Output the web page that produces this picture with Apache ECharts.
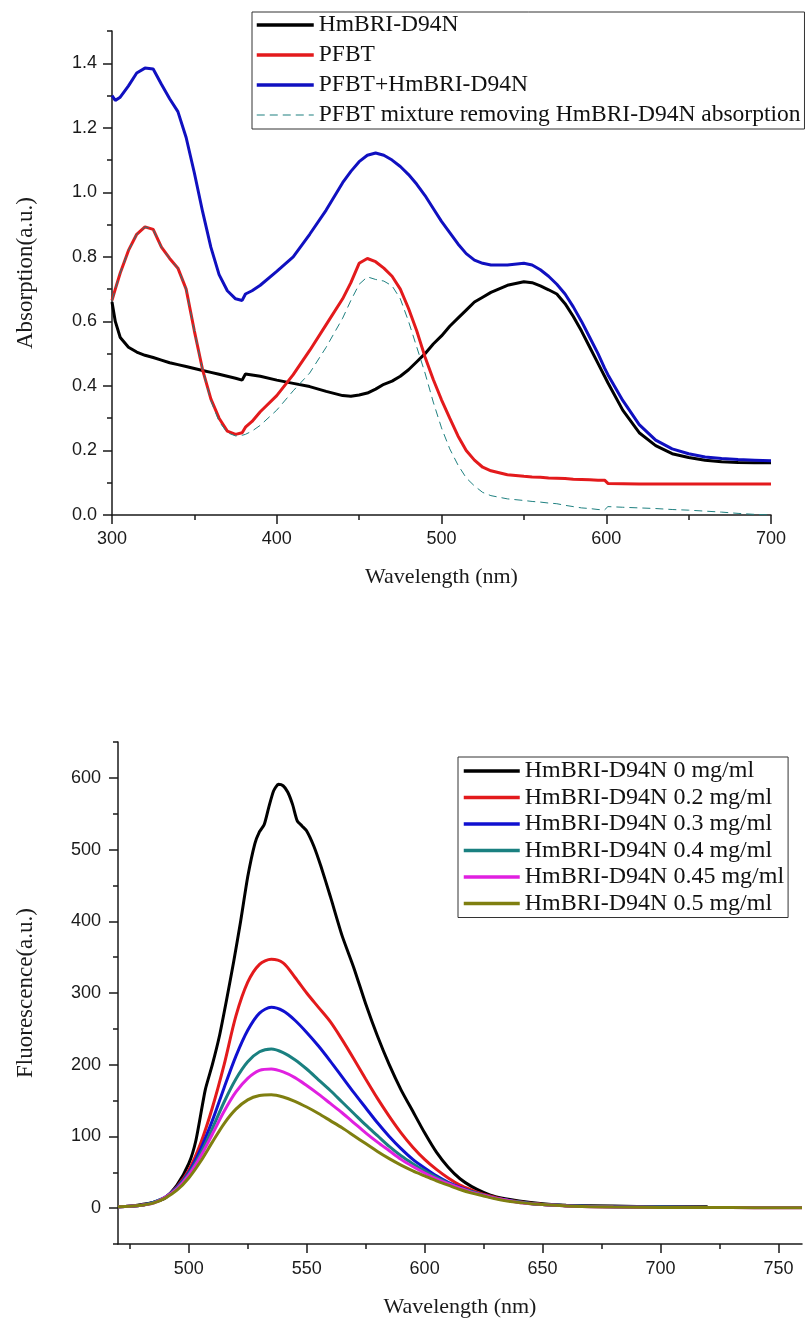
<!DOCTYPE html>
<html>
<head>
<meta charset="utf-8">
<script src="https://cdn.jsdelivr.net/npm/echarts@6/dist/echarts.min.js"></script>
<style>
	html, body { margin: 0; padding: 0; background: #fff; }
	#chart { width: 805px; height: 1323px; }
</style>
</head>
<body>
<div id="chart"></div>
<script>
// ---- absorption spectra (top panel) ----
var absWl = [300, 302, 305, 310, 315, 320, 325, 330, 335, 340, 345, 350, 355, 360, 365, 370, 375, 379, 381, 385,
	390, 400, 410, 420, 430, 440, 445, 450, 455, 460, 465, 470, 475, 480, 485, 490, 495, 500, 505, 510,
	515, 520, 525, 530, 540, 550, 555, 560, 565, 570, 575, 580, 585, 590, 595, 599, 601, 610, 620, 630,
	640, 650, 660, 670, 680, 690, 700];

var absHmbri = [0.66, 0.60, 0.55, 0.52, 0.505, 0.495, 0.488, 0.48, 0.472, 0.466, 0.46, 0.454, 0.448, 0.442, 0.436, 0.43, 0.424, 0.418, 0.437, 0.434,
	0.43, 0.418, 0.408, 0.398, 0.383, 0.37, 0.368, 0.372, 0.378, 0.39, 0.405, 0.415, 0.43, 0.45, 0.475, 0.50, 0.53, 0.555, 0.585, 0.61,
	0.635, 0.66, 0.675, 0.69, 0.712, 0.723, 0.72, 0.71, 0.698, 0.685, 0.655, 0.615, 0.57, 0.52, 0.47, 0.43, 0.41, 0.325, 0.255, 0.215,
	0.19, 0.178, 0.17, 0.165, 0.163, 0.162, 0.162];

var absPfbt = [0.665, 0.70, 0.75, 0.82, 0.87, 0.893, 0.885, 0.83, 0.795, 0.765, 0.70, 0.57, 0.45, 0.36, 0.30, 0.26, 0.25, 0.255, 0.272, 0.29,
	0.32, 0.37, 0.435, 0.51, 0.59, 0.67, 0.72, 0.78, 0.795, 0.785, 0.765, 0.74, 0.70, 0.64, 0.57, 0.49, 0.42, 0.357, 0.30, 0.245,
	0.20, 0.17, 0.148, 0.137, 0.125, 0.12, 0.118, 0.117, 0.115, 0.114, 0.113, 0.111, 0.11, 0.109, 0.108, 0.108, 0.098, 0.097, 0.096, 0.096,
	0.096, 0.096, 0.096, 0.096, 0.096, 0.096, 0.096];

var absMix = [1.30, 1.285, 1.295, 1.33, 1.37, 1.385, 1.382, 1.335, 1.29, 1.25, 1.17, 1.06, 0.94, 0.83, 0.745, 0.695, 0.67, 0.665, 0.685, 0.695,
	0.712, 0.755, 0.80, 0.87, 0.945, 1.03, 1.065, 1.095, 1.115, 1.122, 1.115, 1.10, 1.08, 1.055, 1.025, 0.99, 0.95, 0.91, 0.875, 0.84,
	0.81, 0.79, 0.78, 0.775, 0.775, 0.78, 0.775, 0.76, 0.74, 0.715, 0.685, 0.645, 0.60, 0.55, 0.50, 0.455, 0.435, 0.355, 0.28, 0.232,
	0.205, 0.19, 0.18, 0.175, 0.172, 0.17, 0.168];

var absRemoved = [0.665, 0.70, 0.75, 0.82, 0.87, 0.893, 0.885, 0.83, 0.795, 0.765, 0.70, 0.57, 0.45, 0.355, 0.29, 0.255, 0.245, 0.247, 0.25, 0.26,
	0.278, 0.325, 0.385, 0.44, 0.52, 0.61, 0.665, 0.715, 0.738, 0.73, 0.725, 0.71, 0.67, 0.60, 0.52, 0.44, 0.35, 0.27, 0.205, 0.155,
	0.115, 0.09, 0.07, 0.06, 0.05, 0.045, 0.042, 0.04, 0.037, 0.035, 0.03, 0.026, 0.022, 0.02, 0.017, 0.016, 0.026, 0.024, 0.022, 0.02,
	0.017, 0.015, 0.012, 0.009, 0.005, 0.002, 0.0];

var absNames = ["HmBRI-D94N", "PFBT", "PFBT+HmBRI-D94N", "PFBT mixture removing HmBRI-D94N absorption"];
var absXLabels = [300, 400, 500, 600, 700];
var absXMinor = [350, 450, 550, 650];
var absYLabels = [0, 0.2, 0.4, 0.6, 0.8, 1.0, 1.2, 1.4];
var absYMinor = [0.1, 0.3, 0.5, 0.7, 0.9, 1.1, 1.3, 1.5];

// ---- fluorescence spectra (bottom panel) ----
var flWl0 = [470, 475, 480, 485, 490, 495, 500, 503, 507, 510, 513, 516, 519, 522, 525, 528, 530, 532, 534, 536,
	538, 540, 542, 544, 546, 548, 550, 553, 556, 560, 565, 570, 575, 580, 585, 590, 595, 600, 605, 610,
	615, 620, 625, 630, 640, 650, 660, 680, 700, 720];
var fl0 = [2, 2.5, 5, 8, 14, 32, 62, 94, 165, 200, 240, 290, 343, 400, 462, 508, 525, 535, 560, 582,
	591, 589, 580, 563, 540, 533, 526, 505, 477, 435, 380, 335, 285, 240, 200, 165, 135, 105, 78, 57,
	41, 30, 22, 16, 10, 6, 4, 3, 2, 2];

var flWl = [470, 475, 480, 485, 490, 495, 500, 505, 510, 515, 520, 525, 530, 535, 540, 545, 550, 555, 560, 565,
	570, 575, 580, 585, 590, 595, 600, 605, 610, 615, 620, 625, 630, 635, 640, 645, 650, 660, 670, 680,
	700, 720, 740, 760];
var fl02 = [2, 2.5, 4, 8, 15, 30, 53, 90, 140, 200, 268, 315, 340, 347, 342, 322, 300, 280, 260, 235,
	208, 180, 153, 128, 105, 85, 68, 54, 42, 32, 25, 19, 15, 11, 9, 7, 5, 3.5, 2.5, 2,
	1.5, 1, 1, 1];
var fl03 = [2, 2.5, 4, 8, 15, 29, 50, 82, 122, 168, 212, 248, 272, 280, 275, 262, 245, 226, 205, 183,
	161, 140, 119, 100, 83, 68, 56, 45, 36, 29, 23, 18, 14, 11, 8.5, 6.5, 5, 3.5, 2.5, 2,
	1.5, 1, 1, 1];
var fl04 = [2, 2.5, 4, 8, 15, 28, 48, 76, 111, 148, 180, 204, 218, 222, 217, 207, 194, 179, 164, 148,
	132, 116, 101, 86, 73, 62, 52, 43, 35, 28, 23, 18, 14, 11, 8.5, 6.5, 5, 3.5, 2.5, 2,
	1.5, 1, 1, 1];
var fl045 = [2, 2.5, 4, 7, 15, 27, 46, 72, 103, 135, 162, 181, 192, 194, 190, 182, 171, 159, 146, 133,
	119, 105, 92, 80, 68, 58, 49, 41, 34, 28, 22, 18, 14, 11, 8, 6, 5, 3, 2, 1.5,
	1, 1, 0.5, 0.5];
var fl05 = [2, 2.5, 4, 7, 14, 25, 42, 65, 92, 118, 138, 151, 157, 158, 155, 149, 141, 132, 122, 112,
	101, 90, 79, 69, 60, 52, 45, 38, 32, 26, 21, 17, 13, 10, 8, 6, 5, 3, 2, 1.5,
	1, 1, 0.5, 0.5];

var flNames = ["HmBRI-D94N 0 mg/ml", "HmBRI-D94N 0.2 mg/ml", "HmBRI-D94N 0.3 mg/ml",
	"HmBRI-D94N 0.4 mg/ml", "HmBRI-D94N 0.45 mg/ml", "HmBRI-D94N 0.5 mg/ml"];
var flXLabels = [500, 550, 600, 650, 700, 750];
var flXMinor = [475, 525, 575, 625, 675, 725];
var flYLabels = [0, 100, 200, 300, 400, 500, 600];
var flYMinor = [-50, 50, 150, 250, 350, 450, 550, 650];

// ---- build chart ----
var SANS = "Liberation Sans, Arial, sans-serif",
	SERIF = "Liberation Serif, Times New Roman, serif",
	INK = "#1a1a1a";

function pairs(xs, ys) {
	var out = [];
	for (var i = 0; i < xs.length; i++)
	{
		out.push([xs[i], ys[i]]);
	}
	return out;
}

function mainAxis(grid, min, max, labels, pos, opts) {
	return {
		type: "value",
		gridIndex: grid,
		position: pos,
		min: min,
		max: max,
		axisLine: { show: true, onZero: false, lineStyle: { color: INK, width: 1.5 } },
		axisTick: { show: true, inside: false, length: 9, customValues: labels, lineStyle: { color: INK, width: 1.5 } },
		axisLabel: {
			show: true,
			customValues: labels,
			color: INK,
			fontFamily: SANS,
			fontSize: 18,
			margin: opts.margin,
			formatter: opts.fmt
		},
		splitLine: { show: false },
		name: opts.name,
		nameLocation: "middle",
		nameGap: opts.nameGap,
		nameTextStyle: { color: INK, fontFamily: SERIF, fontSize: opts.nameSize }
	};
}

// second axis on the same side, only for the short minor ticks
function minorAxis(grid, min, max, ticks, pos) {
	return {
		type: "value",
		gridIndex: grid,
		position: pos,
		min: min,
		max: max,
		axisLine: { show: false, onZero: false },
		axisTick: { show: true, inside: false, length: 5, customValues: ticks, lineStyle: { color: INK, width: 1.5 } },
		axisLabel: { show: false },
		splitLine: { show: false }
	};
}

function lineSeries(name, data, color, xi, yi, extra) {
	extra = extra || {};
	return {
		name: name,
		type: "line",
		xAxisIndex: xi,
		yAxisIndex: yi,
		data: data,
		symbol: "none",
		showSymbol: false,
		smooth: extra.smooth || false,
		lineStyle: { color: color, width: extra.width || 3, type: extra.dash || "solid" },
		itemStyle: { color: color },
		z: 3
	};
}

// legend entries: thick sample line, except the thin dashed one
function legendItems(names, thinIndex) {
	return names.map(function(n, i) {
		return { name: n, lineStyle: { width: i === thinIndex ? 1.2 : 3.5 } };
	});
}

var legendText = { fontFamily: SERIF, color: "#111" };

var opt = {
	animation: false,
	backgroundColor: "#fff",
	grid: [
		{ left: 112, right: 34, top: 31, height: 484 },
		{ left: 118, right: 3, top: 742, height: 502 }
	],
	xAxis: [
		mainAxis(0, 300, 700, absXLabels, "bottom", {
			margin: 15, name: "Wavelength (nm)", nameGap: 51, nameSize: 22
		}),
		minorAxis(0, 300, 700, absXMinor, "bottom"),
		mainAxis(1, 470, 760, flXLabels, "bottom", {
			margin: 16, name: "Wavelength (nm)", nameGap: 52, nameSize: 22
		}),
		minorAxis(1, 470, 760, flXMinor, "bottom")
	],
	yAxis: [
		mainAxis(0, 0, 1.5, absYLabels, "left", {
			margin: 15, name: "Absorption(a.u.)", nameGap: 75, nameSize: 23,
			fmt: function(v) { return v.toFixed(1); }
		}),
		minorAxis(0, 0, 1.5, absYMinor, "left"),
		mainAxis(1, -50, 650, flYLabels, "left", {
			margin: 17, name: "Fluorescence(a.u.)", nameGap: 81, nameSize: 23
		}),
		minorAxis(1, -50, 650, flYMinor, "left")
	],
	legend: [
		{
			data: legendItems(absNames, 3),
			orient: "vertical",
			left: 252,
			top: 12,
			padding: [1, 4, 2, 3],
			itemWidth: 57,
			itemHeight: 12,
			itemGap: 6,
			itemStyle: { opacity: 0 },
			borderColor: "#333",
			borderWidth: 1,
			textStyle: Object.assign({ fontSize: 23.5, lineHeight: 24 }, legendText)
		},
		{
			data: legendItems(flNames, -1),
			orient: "vertical",
			left: 458,
			top: 757,
			padding: [2, 4, 2, 4],
			itemWidth: 56,
			itemHeight: 12,
			itemGap: 2.5,
			itemStyle: { opacity: 0 },
			borderColor: "#333",
			borderWidth: 1,
			textStyle: Object.assign({ fontSize: 24, lineHeight: 24 }, legendText)
		}
	],
	series: [
		lineSeries(absNames[0], pairs(absWl, absHmbri), "#000000", 0, 0),
		lineSeries(absNames[1], pairs(absWl, absPfbt), "#e31a1c", 0, 0),
		lineSeries(absNames[2], pairs(absWl, absMix), "#1010c0", 0, 0),
		lineSeries(absNames[3], pairs(absWl, absRemoved), "#1f8080", 0, 0, { width: 1, dash: [8, 5] }),

		lineSeries(flNames[0], pairs(flWl0, fl0), "#000000", 2, 2, { smooth: 0.2 }),
		lineSeries(flNames[1], pairs(flWl, fl02), "#e31a1c", 2, 2, { smooth: 0.3 }),
		lineSeries(flNames[2], pairs(flWl, fl03), "#1010d0", 2, 2, { smooth: 0.3 }),
		lineSeries(flNames[3], pairs(flWl, fl04), "#1a8080", 2, 2, { smooth: 0.3 }),
		lineSeries(flNames[4], pairs(flWl, fl045), "#e020e0", 2, 2, { smooth: 0.3 }),
		lineSeries(flNames[5], pairs(flWl, fl05), "#7f7f10", 2, 2, { smooth: 0.3 })
	]
};

var chart = echarts.init(document.getElementById("chart"), null, { renderer: "canvas" });
chart.setOption(opt);
</script>
</body>
</html>
